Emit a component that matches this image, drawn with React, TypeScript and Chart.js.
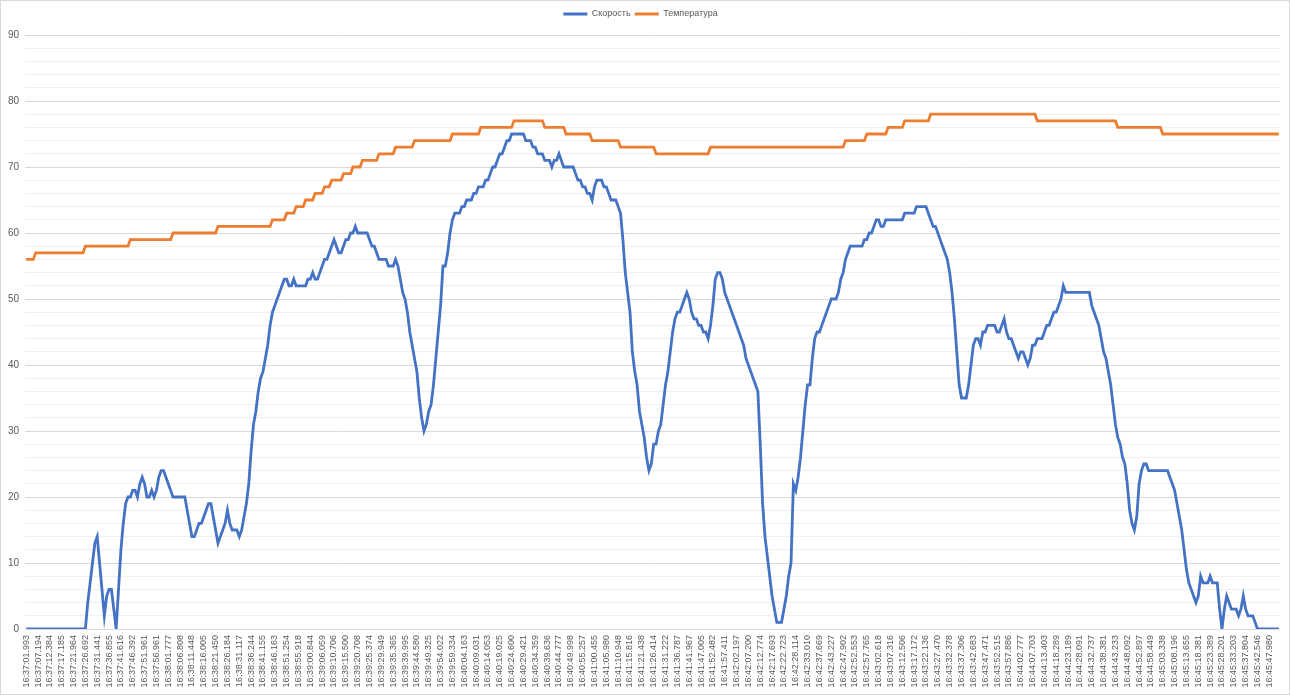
import React, { useEffect, useRef } from "react";
import { Chart, registerables } from "chart.js";

Chart.register(...registerables);

const seriesNames = ["Скорость", "Температура"];
const seriesColors = ["#4472C4", "#ED7D31"];
const LABEL_STEP = 5;
const Y_MIN = 0;
const Y_MAX = 90;
const Y_MINOR = 2;
const Y_MAJOR = 10;

const tickLabels = [
  "16:37:01.993", "16:37:07.194", "16:37:12.384", "16:37:17.185", "16:37:21.964", "16:37:26.692",
  "16:37:31.441", "16:37:36.855", "16:37:41.616", "16:37:46.392", "16:37:51.961", "16:37:56.961",
  "16:38:01.777", "16:38:06.808", "16:38:11.448", "16:38:16.005", "16:38:21.450", "16:38:26.184",
  "16:38:31.117", "16:38:36.244", "16:38:41.155", "16:38:46.163", "16:38:51.254", "16:38:55.918",
  "16:39:00.844", "16:39:06.059", "16:39:10.706", "16:39:15.500", "16:39:20.708", "16:39:25.374",
  "16:39:29.949", "16:39:35.365", "16:39:39.995", "16:39:44.580", "16:39:49.325", "16:39:54.022",
  "16:39:59.334", "16:40:04.163", "16:40:09.031", "16:40:14.053", "16:40:19.025", "16:40:24.600",
  "16:40:29.421", "16:40:34.359", "16:40:39.636", "16:40:44.777", "16:40:49.998", "16:40:55.257",
  "16:41:00.455", "16:41:05.980", "16:41:10.948", "16:41:15.816", "16:41:21.438", "16:41:26.414",
  "16:41:31.222", "16:41:36.787", "16:41:41.967", "16:41:47.005", "16:41:52.482", "16:41:57.411",
  "16:42:02.197", "16:42:07.200", "16:42:12.774", "16:42:17.693", "16:42:22.723", "16:42:28.114",
  "16:42:33.010", "16:42:37.669", "16:42:43.227", "16:42:47.902", "16:42:52.553", "16:42:57.765",
  "16:43:02.618", "16:43:07.316", "16:43:12.506", "16:43:17.172", "16:43:22.136", "16:43:27.470",
  "16:43:32.378", "16:43:37.306", "16:43:42.683", "16:43:47.471", "16:43:52.515", "16:43:57.886",
  "16:44:02.777", "16:44:07.703", "16:44:13.403", "16:44:18.289", "16:44:23.189", "16:44:28.091",
  "16:44:32.737", "16:44:38.381", "16:44:43.233", "16:44:48.092", "16:44:52.897", "16:44:58.449",
  "16:45:03.338", "16:45:08.196", "16:45:13.655", "16:45:18.381", "16:45:23.389", "16:45:28.201",
  "16:45:33.203", "16:45:37.804", "16:45:42.546", "16:45:47.980",
];

const speed = [
  0, 0, 0, 0, 0, 0, 0, 0, 0, 0,
  0, 0, 0, 0, 0, 0, 0, 0, 0, 0,
  0, 0, 0, 0, 0, 0, 4, 7, 10, 13,
  14, 10, 6, 2, 5, 6, 6, 3, 0, 6,
  12, 16, 19, 20, 20, 21, 21, 20, 22, 23,
  22, 20, 20, 21, 20, 21, 23, 24, 24, 23,
  22, 21, 20, 20, 20, 20, 20, 20, 18, 16,
  14, 14, 15, 16, 16, 17, 18, 19, 19, 17,
  15, 13, 14, 15, 16, 18, 16, 15, 15, 15,
  14, 15, 17, 19, 22, 27, 31, 33, 36, 38,
  39, 41, 43, 46, 48, 49, 50, 51, 52, 53,
  53, 52, 52, 53, 52, 52, 52, 52, 52, 53,
  53, 54, 53, 53, 54, 55, 56, 56, 57, 58,
  59, 58, 57, 57, 58, 59, 59, 60, 60, 61,
  60, 60, 60, 60, 60, 59, 58, 58, 57, 56,
  56, 56, 56, 55, 55, 55, 56, 55, 53, 51,
  50, 48, 45, 43, 41, 39, 35, 32, 30, 31,
  33, 34, 37, 41, 45, 49, 55, 55, 57, 60,
  62, 63, 63, 63, 64, 64, 65, 65, 65, 66,
  66, 67, 67, 67, 68, 68, 69, 70, 70, 71,
  72, 72, 73, 74, 74, 75, 75, 75, 75, 75,
  75, 74, 74, 74, 73, 73, 72, 72, 72, 71,
  71, 71, 70, 71, 71, 72, 71, 70, 70, 70,
  70, 70, 69, 68, 68, 67, 67, 66, 66, 65,
  67, 68, 68, 68, 67, 67, 66, 65, 65, 65,
  64, 63, 59, 54, 51, 48, 42, 39, 37, 33,
  31, 29, 26, 24, 25, 28, 28, 30, 31, 34,
  37, 39, 42, 45, 47, 48, 48, 49, 50, 51,
  50, 48, 47, 47, 46, 46, 45, 45, 44, 46,
  49, 53, 54, 54, 53, 51, 50, 49, 48, 47,
  46, 45, 44, 43, 41, 40, 39, 38, 37, 36,
  28, 19, 14, 11, 8, 5, 3, 1, 1, 1,
  3, 5, 8, 10, 22, 21, 23, 26, 30, 34,
  37, 37, 41, 44, 45, 45, 46, 47, 48, 49,
  50, 50, 50, 51, 53, 54, 56, 57, 58, 58,
  58, 58, 58, 58, 59, 59, 60, 60, 61, 62,
  62, 61, 61, 62, 62, 62, 62, 62, 62, 62,
  62, 63, 63, 63, 63, 63, 64, 64, 64, 64,
  64, 63, 62, 61, 61, 60, 59, 58, 57, 56,
  54, 51, 47, 42, 37, 35, 35, 35, 37, 40,
  43, 44, 44, 43, 45, 45, 46, 46, 46, 46,
  45, 45, 46, 47, 45, 44, 44, 43, 42, 41,
  42, 42, 41, 40, 41, 43, 43, 44, 44, 44,
  45, 46, 46, 47, 48, 48, 49, 50, 52, 51,
  51, 51, 51, 51, 51, 51, 51, 51, 51, 51,
  49, 48, 47, 46, 44, 42, 41, 39, 37, 34,
  31, 29, 28, 26, 25, 22, 18, 16, 15, 17,
  22, 24, 25, 25, 24, 24, 24, 24, 24, 24,
  24, 24, 24, 23, 22, 21, 19, 17, 15, 12,
  9, 7, 6, 5, 4, 5, 8, 7, 7, 7,
  8, 7, 7, 7, 3, 0, 3, 5, 4, 3,
  3, 3, 2, 3, 5, 3, 2, 2, 2, 1,
  0, 0, 0, 0, 0, 0, 0, 0, 0, 0,
];

const temperature = [
  56, 56, 56, 56, 57, 57, 57, 57, 57, 57,
  57, 57, 57, 57, 57, 57, 57, 57, 57, 57,
  57, 57, 57, 57, 57, 58, 58, 58, 58, 58,
  58, 58, 58, 58, 58, 58, 58, 58, 58, 58,
  58, 58, 58, 58, 59, 59, 59, 59, 59, 59,
  59, 59, 59, 59, 59, 59, 59, 59, 59, 59,
  59, 59, 60, 60, 60, 60, 60, 60, 60, 60,
  60, 60, 60, 60, 60, 60, 60, 60, 60, 60,
  60, 61, 61, 61, 61, 61, 61, 61, 61, 61,
  61, 61, 61, 61, 61, 61, 61, 61, 61, 61,
  61, 61, 61, 61, 62, 62, 62, 62, 62, 62,
  63, 63, 63, 63, 64, 64, 64, 64, 65, 65,
  65, 65, 66, 66, 66, 66, 67, 67, 67, 68,
  68, 68, 68, 68, 69, 69, 69, 69, 70, 70,
  70, 70, 71, 71, 71, 71, 71, 71, 71, 72,
  72, 72, 72, 72, 72, 72, 73, 73, 73, 73,
  73, 73, 73, 73, 74, 74, 74, 74, 74, 74,
  74, 74, 74, 74, 74, 74, 74, 74, 74, 74,
  75, 75, 75, 75, 75, 75, 75, 75, 75, 75,
  75, 75, 76, 76, 76, 76, 76, 76, 76, 76,
  76, 76, 76, 76, 76, 76, 77, 77, 77, 77,
  77, 77, 77, 77, 77, 77, 77, 77, 77, 76,
  76, 76, 76, 76, 76, 76, 76, 76, 75, 75,
  75, 75, 75, 75, 75, 75, 75, 75, 75, 74,
  74, 74, 74, 74, 74, 74, 74, 74, 74, 74,
  74, 73, 73, 73, 73, 73, 73, 73, 73, 73,
  73, 73, 73, 73, 73, 73, 72, 72, 72, 72,
  72, 72, 72, 72, 72, 72, 72, 72, 72, 72,
  72, 72, 72, 72, 72, 72, 72, 72, 72, 73,
  73, 73, 73, 73, 73, 73, 73, 73, 73, 73,
  73, 73, 73, 73, 73, 73, 73, 73, 73, 73,
  73, 73, 73, 73, 73, 73, 73, 73, 73, 73,
  73, 73, 73, 73, 73, 73, 73, 73, 73, 73,
  73, 73, 73, 73, 73, 73, 73, 73, 73, 73,
  73, 73, 73, 73, 73, 73, 74, 74, 74, 74,
  74, 74, 74, 74, 74, 75, 75, 75, 75, 75,
  75, 75, 75, 75, 76, 76, 76, 76, 76, 76,
  76, 77, 77, 77, 77, 77, 77, 77, 77, 77,
  77, 77, 78, 78, 78, 78, 78, 78, 78, 78,
  78, 78, 78, 78, 78, 78, 78, 78, 78, 78,
  78, 78, 78, 78, 78, 78, 78, 78, 78, 78,
  78, 78, 78, 78, 78, 78, 78, 78, 78, 78,
  78, 78, 78, 78, 78, 78, 78, 77, 77, 77,
  77, 77, 77, 77, 77, 77, 77, 77, 77, 77,
  77, 77, 77, 77, 77, 77, 77, 77, 77, 77,
  77, 77, 77, 77, 77, 77, 77, 77, 77, 77,
  77, 76, 76, 76, 76, 76, 76, 76, 76, 76,
  76, 76, 76, 76, 76, 76, 76, 76, 76, 76,
  75, 75, 75, 75, 75, 75, 75, 75, 75, 75,
  75, 75, 75, 75, 75, 75, 75, 75, 75, 75,
  75, 75, 75, 75, 75, 75, 75, 75, 75, 75,
  75, 75, 75, 75, 75, 75, 75, 75, 75, 75,
  75, 75, 75, 75, 75, 75, 75, 75, 75, 75,
];

const FONT = "'Liberation Sans', Arial, sans-serif";
const TEXT = "#595959";

const legendGap = {
  id: "legendGap",
  afterInit(chart: any) {
    const lg = chart.legend;
    if (!lg) return;
    const fit = lg.fit;
    lg.fit = function () {
      fit.call(this);
      this.height += 6.5;
    };
  },
};

export default function App() {
  const ref = useRef<HTMLCanvasElement>(null);

  useEffect(() => {
    const series = [speed, temperature];
    const chart = new Chart(ref.current as HTMLCanvasElement, {
      type: "line",
      data: {
        datasets: series.map((values, k) => ({
          label: seriesNames[k],
          data: values.map((y, x) => ({ x, y })),
          borderColor: seriesColors[k],
          backgroundColor: seriesColors[k],
          borderWidth: 2.8,
          pointRadius: 0,
          tension: 0,
          fill: false,
        })),
      },
      plugins: [legendGap],
      options: {
        animation: false,
        responsive: false,
        maintainAspectRatio: false,
        layout: { padding: { top: 4.5, left: 0, right: 9, bottom: 0 } },
        plugins: {
          legend: {
            position: "top",
            labels: {
              usePointStyle: true,
              pointStyle: "line",
              pointStyleWidth: 24,
              color: TEXT,
              font: { family: FONT, size: 9 },
              padding: 4,
            },
          },
          tooltip: { enabled: false },
        },
        scales: {
          x: {
            type: "linear",
            min: -0.5,
            max: speed.length - 0.5,
            grid: { display: false, drawTicks: false },
            border: { display: false },
            afterBuildTicks: (s: any) => {
              s.ticks = tickLabels.map((_, k) => ({ value: k * LABEL_STEP }));
            },
            afterFit: (s: any) => {
              s.height = 65;
            },
            ticks: {
              autoSkip: false,
              minRotation: 90,
              maxRotation: 90,
              padding: 6,
              color: TEXT,
              font: { family: FONT, size: 9 },
              callback: (v: any) => tickLabels[Math.round(Number(v) / LABEL_STEP)],
            },
          },
          y: {
            min: Y_MIN,
            max: Y_MAX,
            border: { display: false },
            grid: {
              drawTicks: false,
              color: (ctx: any) =>
                ctx.tick && ctx.tick.value % Y_MAJOR === 0 ? "#d9d9d9" : "#efefef",
              lineWidth: 1,
            },
            afterBuildTicks: (s: any) => {
              const t: { value: number }[] = [];
              for (let v = Y_MIN; v <= Y_MAX; v += Y_MINOR) t.push({ value: v });
              s.ticks = t;
            },
            afterFit: (s: any) => {
              s.width = 24;
            },
            ticks: {
              autoSkip: false,
              padding: 6,
              color: TEXT,
              font: { family: FONT, size: 10 },
              callback: (v: any) => (Number(v) % Y_MAJOR === 0 ? String(v) : ""),
            },
          },
        },
      },
    } as any);
    return () => chart.destroy();
  }, []);

  return (
    <div
      style={{
        position: "fixed",
        left: 0,
        top: 0,
        width: 1290,
        height: 695,
        boxSizing: "border-box",
        border: "1px solid #d9d9d9",
        background: "#ffffff",
      }}
    >
      <canvas ref={ref} width={1288} height={693} style={{ display: "block" }} />
    </div>
  );
}
